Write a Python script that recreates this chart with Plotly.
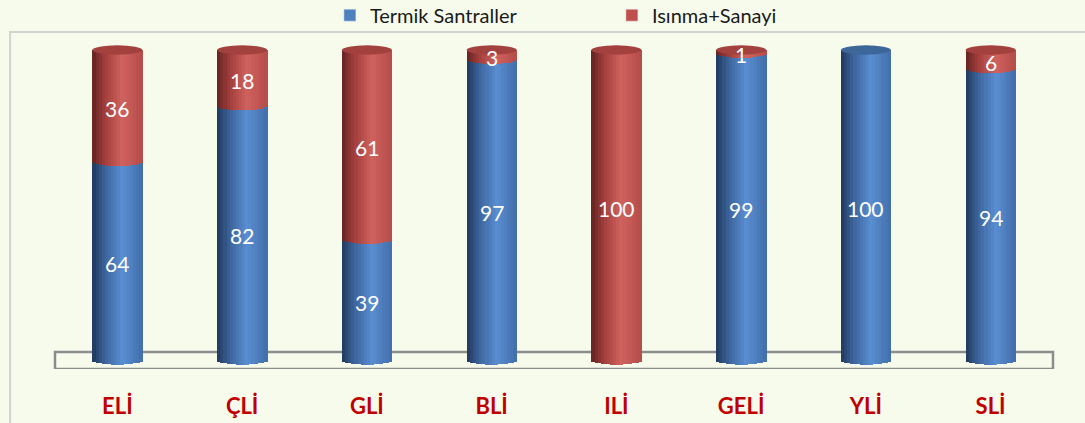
import plotly.graph_objects as go
import numpy as np

categories = ["ELİ", "ÇLİ", "GLİ", "BLİ", "ILİ", "GELİ", "YLİ", "SLİ"]
termik = [64, 82, 39, 97, 0, 99, 100, 94]
isinma = [36, 18, 61, 3, 100, 1, 0, 6]
series_names = ["Termik Santraller", "Isınma+Sanayi"]

BG = "#F7FBEC"
W = 0.40        # cylinder width (category units)
H = 1.5         # ellipse half-height (value units)
NS = 16         # shading strips

blue_stops = [(-1, (31, 56, 90)), (-0.5, (60, 100, 156)), (0.2, (90, 142, 210)), (1, (66, 110, 170))]
red_stops = [(-1, (100, 36, 34)), (-0.5, (162, 62, 60)), (0.2, (208, 98, 94)), (1, (180, 76, 74))]


def interp(stops, u):
    for (u0, c0), (u1, c1) in zip(stops[:-1], stops[1:]):
        if u0 <= u <= u1:
            t = (u - u0) / (u1 - u0)
            return "rgb(%d,%d,%d)" % tuple(int(round(a + (b - a) * t)) for a, b in zip(c0, c1))
    return "rgb(%d,%d,%d)" % stops[-1][1]


x = np.arange(len(categories))
fig = go.Figure()

for k in range(NS):
    u = -1 + (k + 0.5) * 2 / NS
    s = H * np.sqrt(max(0.0, 1 - u * u))
    off = -W / 2 + k * W / NS
    bb, by = [], []
    for t in termik:
        if t > 0:
            bb.append(-s)
            by.append(t + s)
        else:
            bb.append(0)
            by.append(0)
    fig.add_trace(go.Bar(x=x, y=by, base=bb, width=W / NS * 1.15, offset=off,
                         marker=dict(color=interp(blue_stops, u), line=dict(width=0)),
                         showlegend=False, hoverinfo="skip"))
for k in range(NS):
    u = -1 + (k + 0.5) * 2 / NS
    s = H * np.sqrt(max(0.0, 1 - u * u))
    off = -W / 2 + k * W / NS
    rb, ry = [], []
    for t, r in zip(termik, isinma):
        if r > 0:
            rb.append(t - s)
            ry.append(r + s)
        else:
            rb.append(0)
            ry.append(0)
    fig.add_trace(go.Bar(x=x, y=ry, base=rb, width=W / NS * 1.15, offset=off,
                         marker=dict(color=interp(red_stops, u), line=dict(width=0)),
                         showlegend=False, hoverinfo="skip"))

# legend entries
fig.add_trace(go.Bar(x=[None], y=[None], name=series_names[0], marker_color="#4F81BD"))
fig.add_trace(go.Bar(x=[None], y=[None], name=series_names[1], marker_color="#C0504D"))

shapes = []
shapes.append(dict(type="rect", xref="paper", yref="paper", x0=-0.045, x1=1.3, y0=-1, y1=1.0,
                   line=dict(color="#D2D2D2", width=2), fillcolor="rgba(0,0,0,0)", layer="below"))
shapes.append(dict(type="rect", xref="paper", yref="y", x0=0, x1=1, y0=-2.9, y1=2.6,
                   line=dict(color="#8C8C8C", width=2.5), fillcolor="rgba(0,0,0,0)", layer="below"))
for i, (t, r) in enumerate(zip(termik, isinma)):
    top = t + r
    col = "#A3413F" if r > 0 else "#3D6799"
    shapes.append(dict(type="circle", xref="x", yref="y", x0=i - W / 2, x1=i + W / 2,
                       y0=top - H, y1=top + H, fillcolor=col, line=dict(width=0), layer="above"))

annotations = []
for i, (t, r) in enumerate(zip(termik, isinma)):
    if t > 0:
        annotations.append(dict(x=i, y=t / 2, text=str(t), showarrow=False, yshift=-3,
                                font=dict(color="white", size=21, family="Lato")))
    if r > 0:
        annotations.append(dict(x=i, y=t + r / 2, text=str(r), showarrow=False, yshift=-3,
                                font=dict(color="white", size=21, family="Lato")))

fig.update_layout(
    width=1085, height=423,
    margin=dict(l=55, r=32, t=32, b=54, autoexpand=False),
    paper_bgcolor=BG, plot_bgcolor=BG,
    barmode="overlay",
    bargap=0,
    shapes=shapes,
    annotations=annotations,
    showlegend=True,
    legend=dict(orientation="h", x=0.558, xanchor="center", y=1.05, yanchor="middle",
                font=dict(size=20, family="Lato", color="#1A1A1A"),
                entrywidth=237, entrywidthmode="pixels", bgcolor="rgba(0,0,0,0)",
                itemclick=False),
    xaxis=dict(range=[-0.5, 7.5], tickvals=list(x), ticktext=categories,
               tickfont=dict(size=22, family="Lato", color="#C00000", weight="bold"),
               showgrid=False, zeroline=False, showline=False, ticks="",
               ticklabelstandoff=22, fixedrange=True),
    yaxis=dict(range=[-2.9, 105.8], visible=False, fixedrange=True),
)

fig.write_html("out.html", config={"displayModeBar": False},
               post_script="document.body.style.margin='0';document.body.style.background='%s';" % BG)
